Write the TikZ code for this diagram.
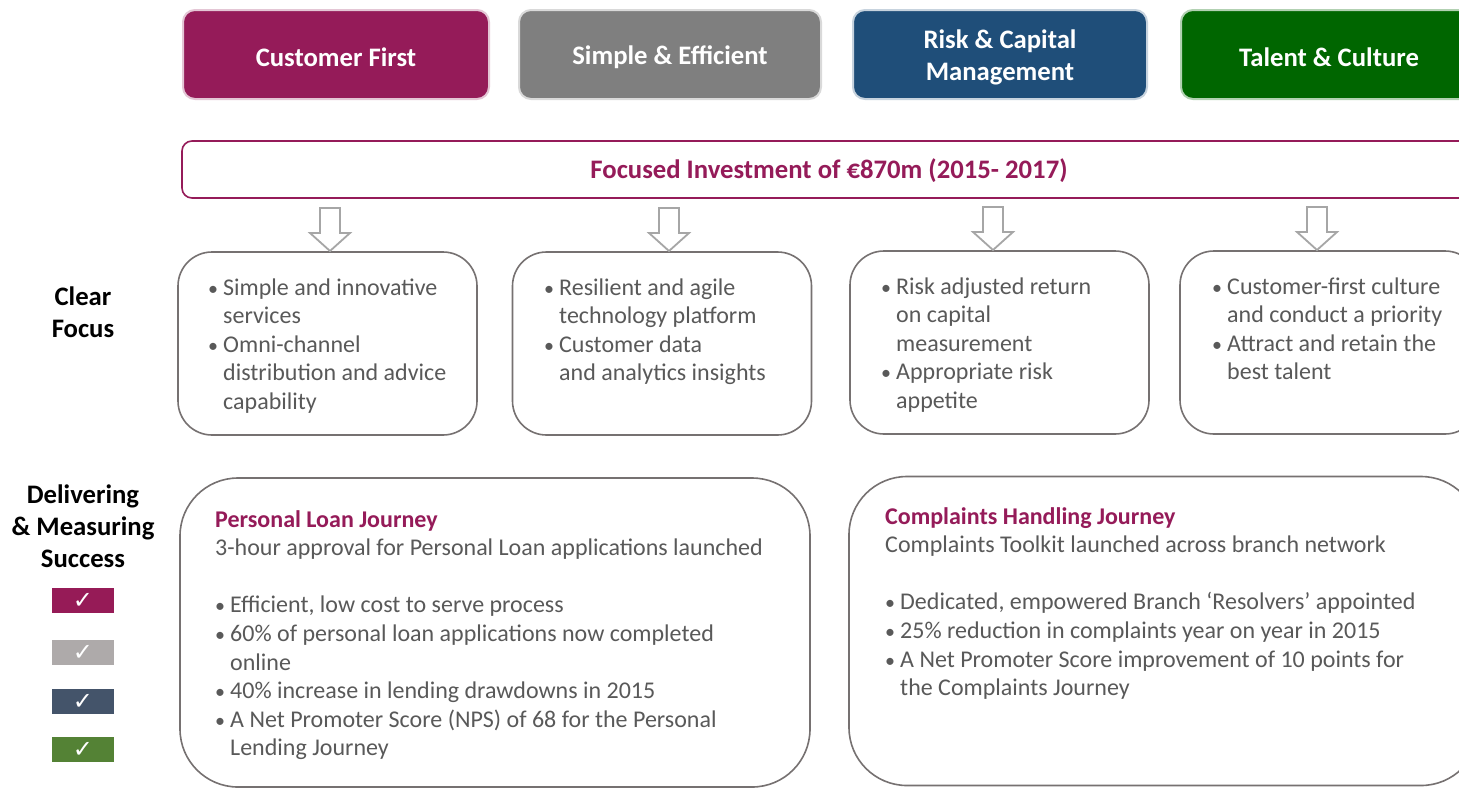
\documentclass[tikz,border=0pt]{standalone}
\usepackage{fontspec}
\setmainfont{Carlito}
\newfontfamily\symfont{DejaVu Sans}
\definecolor{cfpurple}{HTML}{951B59}
\definecolor{segray}{HTML}{7F7F7F}
\definecolor{rcblue}{HTML}{1F4E79}
\definecolor{tcgreen}{HTML}{006600}
\definecolor{txtgray}{HTML}{595959}
\definecolor{boxgray}{HTML}{767171}
\definecolor{arrgray}{HTML}{A6A6A6}
\definecolor{ckpurple}{HTML}{961B57}
\definecolor{ckgray}{HTML}{AEAAAA}
\definecolor{ckblue}{HTML}{44546A}
\definecolor{ckgreen}{HTML}{548235}
\newcommand{\bodyfont}{\fontsize{24}{28.6}\selectfont}
\newcommand{\bul}{\makebox[15pt][l]{\fontsize{20}{20}\selectfont\textbullet}}
\tikzset{
  topbox/.style={rounded corners=12pt, minimum height=89pt, inner sep=0pt, line width=2pt},
  toptext/.style={text=white, font=\fontsize{26.7}{32}\selectfont\bfseries, align=center, inner sep=0pt},
  focusbox/.style={draw=boxgray, line width=1.6pt, rounded corners=34pt, fill=white,
    minimum width=299pt, minimum height=183pt, inner sep=0pt},
  deliverbox/.style={draw=boxgray, line width=1.6pt, rounded corners=58pt, fill=white,
    minimum width=630pt, minimum height=309pt, inner sep=0pt},
  bodytext/.style={anchor=base west, text=txtgray, font=\bodyfont, inner sep=0pt, align=left},
  sidelabel/.style={font=\fontsize{26.7}{32}\selectfont\bfseries, align=center, text=black, inner sep=0pt},
  checkbox/.style={minimum width=62pt, minimum height=25pt, inner sep=0pt, text=white,
    font=\symfont\fontsize{24}{24}\selectfont},
  hollowdown/.pic={
    \draw[arrgray, line width=1.8pt, fill=white, line join=miter]
      (-10,-43) -- (10,-43) -- (10,-18) -- (20,-18) -- (0,0) -- (-20,-18) -- (-10,-18) -- cycle;
  }
}
\begin{document}
\begin{tikzpicture}[x=1pt,y=-1pt]
\useasboundingbox (0,0) rectangle (1459,788);
\clip (0,0) rectangle (1459,788);
\fill[white] (0,0) rectangle (1459,788);

% top pillars
\node[topbox, fill=cfpurple, minimum width=306pt, draw=cfpurple!25] (t1) at (336,54.5) {};
\node[topbox, fill=segray, minimum width=302pt, draw=segray!30] (t2) at (670,54.5) {};
\node[topbox, fill=rcblue, minimum width=294pt, draw=rcblue!25] (t3) at (1000,54.5) {};
\node[topbox, fill=tcgreen, minimum width=296pt, draw=tcgreen!30] (t4) at (1329,54.5) {};
\node[toptext] (t1l) at ([yshift=-2.5pt]t1.center) {Customer First};
\node[toptext] (t2l) at ([yshift=-2.5pt]t2.center) {Simple \& Efficient};
\node[toptext] (t3l) at ([yshift=-2.5pt]t3.center) {Risk \& Capital\\Management};
\node[toptext] (t4l) at ([yshift=-2.5pt]t4.center) {Talent \& Culture};

% focused investment
\node[draw=cfpurple, line width=1.6pt, rounded corners=10pt, minimum width=1296pt, minimum height=57pt,
  inner sep=0pt] (fi) at (830,169.5) {};
\node[text=cfpurple, font=\fontsize{26.7}{32}\selectfont\bfseries, inner sep=0pt] (fitxt) at (829,171) {Focused Investment of €870m (2015- 2017)};

% clear focus boxes
\node[focusbox] (c1) at (327.5,343.5) {};
\node[focusbox] (c2) at (662,343.5) {};
\node[focusbox] (c3) at (999.5,342.5) {};
\node[focusbox] (c4) at (1329.5,342.5) {};

% hollow arrows
\pic at (330,251) {hollowdown};
\pic at (669,251) {hollowdown};
\pic at (993,250) {hollowdown};
\pic at (1317,250) {hollowdown};

% clear focus texts
\node[bodytext] (c1t) at (208,295) {\begin{tabular}[t]{@{}l@{}l@{}}
\bul & Simple and innovative\\ & services\\ \bul & Omni-channel\\ & distribution and advice\\ & capability\end{tabular}};
\node[bodytext] (c2t) at (544,295) {\begin{tabular}[t]{@{}l@{}l@{}}
\bul & Resilient and agile\\ & technology platform\\ \bul & Customer data\\ & and analytics insights\end{tabular}};
\node[bodytext] (c3t) at (881,294) {\begin{tabular}[t]{@{}l@{}l@{}}
\bul & Risk adjusted return\\ & on capital\\ & measurement\\ \bul & Appropriate risk\\ & appetite\end{tabular}};
\node[bodytext] (c4t) at (1212,294) {\begin{tabular}[t]{@{}l@{}l@{}}
\bul & Customer-first culture\\ & and conduct a priority\\ \bul & Attract and retain the\\ & best talent\end{tabular}};

% side labels
\node[sidelabel] (lcf) at (83,312) {Clear\\Focus};
\node[sidelabel] (ldm) at (83,526) {Delivering\\\& Measuring\\Success};

% check boxes
\node[checkbox, fill=ckpurple] (k1) at (83,600.5) {✓};
\node[checkbox, fill=ckgray] (k2) at (83,652.5) {✓};
\node[checkbox, fill=ckblue] (k3) at (83,701.5) {✓};
\node[checkbox, fill=ckgreen] (k4) at (83,749.5) {✓};

% delivering boxes
\node[deliverbox] (d1) at (495,632.5) {};
\node[deliverbox] (d2) at (1164,631) {};

\node[bodytext] (d1t) at (215,527) {\begin{tabular}[t]{@{}l@{}l@{}}
\multicolumn{2}{@{}l@{}}{\textcolor{cfpurple}{\bfseries Personal Loan Journey}}\\
\multicolumn{2}{@{}l@{}}{3-hour approval for Personal Loan applications launched}\\[28.6pt]
\bul & Efficient, low cost to serve process\\
\bul & 60\% of personal loan applications now completed\\
 & online\\
\bul & 40\% increase in lending drawdowns in 2015\\
\bul & A Net Promoter Score (NPS) of 68 for the Personal\\
 & Lending Journey\end{tabular}};
\node[bodytext] (d2t) at (885,524) {\begin{tabular}[t]{@{}l@{}l@{}}
\multicolumn{2}{@{}l@{}}{\textcolor{cfpurple}{\bfseries Complaints Handling Journey}}\\
\multicolumn{2}{@{}l@{}}{Complaints Toolkit launched across branch network}\\[28.6pt]
\bul & Dedicated, empowered Branch ‘Resolvers’ appointed\\
\bul & 25\% reduction in complaints year on year in 2015\\
\bul & A Net Promoter Score improvement of 10 points for\\
 & the Complaints Journey\end{tabular}};
\end{tikzpicture}
\end{document}
